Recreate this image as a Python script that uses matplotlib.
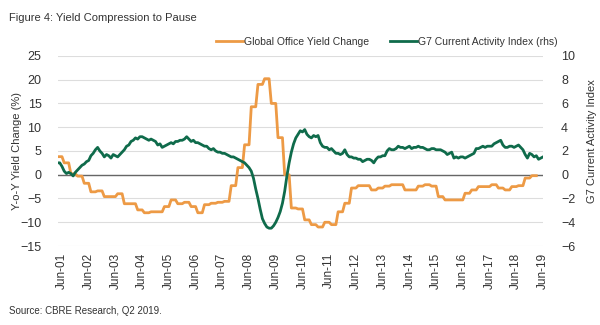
import numpy as np
import matplotlib
matplotlib.use('Agg')
import matplotlib.pyplot as plt

plt.rcParams['font.family'] = ['Liberation Sans', 'DejaVu Sans']

# 四半期の利回り変化 (%)  Q2-2001 .. Q1-2019
yield_change_q = [
    3.8, 2.5, 0.2, -0.3, -1.8, -3.6, -3.4, -4.6, -4.6, -4.0, -6.1, -6.1,
    -7.4, -8.0, -7.8, -7.8, -6.7, -5.3, -6.1, -5.8, -6.7, -8.0, -6.3, -6.0,
    -5.8, -5.6, -2.3, 1.5, 6.3, 14.3, 19.0, 20.2, 15.0, 7.8, 0.0, -7.0,
    -7.2, -9.5, -10.5, -11.0, -10.0, -10.5, -7.8, -6.0, -2.8, -2.3, -2.3, -3.2,
    -2.8, -2.4, -2.1, -2.1, -3.2, -3.2, -2.4, -2.1, -2.4, -4.6, -5.3, -5.3,
    -5.3, -3.9, -3.2, -2.5, -2.5, -2.1, -2.8, -3.2, -2.5, -2.3, -0.7, -0.2,
]

# G7 Current Activity Index (月次, Apr-01 から)
g7_cai = [
    1.0, 1.0, 0.7, 0.3, 0.1, 0.2, 0.1, -0.1, 0.2, 0.4, 0.6, 0.8,
    0.9, 1.1, 1.2, 1.6, 1.8, 2.1, 2.3, 2.0, 1.8, 1.5, 1.7, 1.6,
    1.4, 1.7, 1.6, 1.5, 1.7, 1.9, 2.1, 2.4, 2.5, 2.8, 2.9, 3.1,
    3.0, 3.2, 3.2, 3.1, 3.0, 2.9, 3.0, 2.9, 2.8, 2.5, 2.6, 2.3,
    2.4, 2.5, 2.6, 2.7, 2.6, 2.8, 2.8, 2.9, 2.9, 3.0, 3.2, 3.0,
    2.8, 2.9, 2.7, 2.7, 2.6, 2.5, 2.4, 2.4, 2.2, 2.1, 2.2, 2.0,
    1.9, 1.9, 1.8, 1.8, 1.7, 1.6, 1.5, 1.5, 1.4, 1.3, 1.2, 1.1,
    1.0, 0.8, 0.6, 0.3, -0.3, -1.2, -2.0, -2.9, -3.7, -4.1, -4.4, -4.5,
    -4.5, -4.3, -4.0, -3.6, -3.1, -2.4, -1.4, -0.1, 1.0, 1.9, 2.6, 3.1,
    3.4, 3.7, 3.6, 3.8, 3.4, 3.2, 3.1, 3.3, 3.2, 3.3, 2.7, 2.4,
    2.3, 2.3, 2.1, 2.2, 2.0, 1.8, 1.8, 1.7, 1.8, 2.1, 1.7, 1.5,
    1.5, 1.4, 1.4, 1.3, 1.3, 1.1, 1.2, 1.3, 1.3, 1.2, 1.0, 1.3,
    1.5, 1.5, 1.6, 1.6, 2.0, 2.2, 2.1, 2.1, 2.2, 2.4, 2.3, 2.3,
    2.2, 2.3, 2.4, 2.2, 2.3, 2.3, 2.4, 2.3, 2.3, 2.2, 2.1, 2.1,
    2.2, 2.2, 2.1, 2.1, 2.1, 2.0, 1.9, 1.7, 1.8, 1.9, 1.4, 1.5,
    1.4, 1.5, 1.5, 1.4, 1.5, 1.6, 1.7, 1.8, 2.2, 2.2, 2.3, 2.4,
    2.3, 2.4, 2.4, 2.4, 2.6, 2.7, 2.8, 2.9, 2.5, 2.3, 2.3, 2.4,
    2.4, 2.3, 2.4, 2.5, 2.3, 2.1, 1.7, 1.4, 1.8, 1.7, 1.5, 1.6,
    1.3, 1.4, 1.5,
]

tick_labels = ['Jun-%02d' % y for y in range(1, 20)]

orange = '#ED9A45'
green = '#0F6B4B'
txt = '#333333'

# 月番号 (Jun-01 = 0)
yc = np.repeat(yield_change_q, 3)
m_yc = np.arange(len(yc)) - 2
m_g7 = np.arange(len(g7_cai)) - 2

fig = plt.figure(figsize=(6, 3.25), dpi=100)
ax = fig.add_axes([0.097, 0.243, 0.808, 0.585])
ax2 = ax.twinx()

ax.set_ylim(-15, 25)
ax2.set_ylim(-6, 10)
ax.set_xlim(-1.7, 216)
ax.set_yticks(range(-15, 30, 5))
ax2.set_yticks(range(-6, 12, 2))
ax.set_xticks(np.arange(0, 217, 12))
ax.set_xticklabels(tick_labels, rotation=90)

ax.grid(axis='y', color='#dddddd', linewidth=0.8)
ax.axhline(0, color='#666666', linewidth=1.0, zorder=2)
for a in (ax, ax2):
    for s in a.spines.values():
        s.set_visible(False)
    a.tick_params(length=0, labelsize=9, colors=txt)
ax.tick_params(axis='y', pad=12)
ax2.tick_params(axis='y', pad=13)
ax.tick_params(axis='x', pad=5, labelsize=8.5)

l1, = ax.plot(m_yc, yc, color=orange, linewidth=2.0, label='Global Office Yield Change', zorder=3)
l2, = ax2.plot(m_g7, g7_cai, color=green, linewidth=2.0, label='G7 Current Activity Index (rhs)')

ax.set_ylabel('Y-o-Y Yield Change (%)', fontsize=8, color=txt)
ax.yaxis.set_label_coords(-0.075, 0.5)
ax2.set_ylabel('G7 Current Activity Index', fontsize=8, color=txt)
ax2.yaxis.set_label_coords(1.09, 0.55)

fig.legend(handles=[l1, l2], loc='center', bbox_to_anchor=(0.645, 0.872), ncol=2,
           frameon=False, fontsize=7.5, handlelength=2.6, handletextpad=0.1,
           columnspacing=2.0, labelcolor=txt)

fig.text(0.015, 0.935, 'Figure 4: Yield Compression to Pause', fontsize=8, color=txt)
fig.text(0.015, 0.035, 'Source: CBRE Research, Q2 2019.', fontsize=7, color=txt)

plt.savefig('out.png', dpi=100)
